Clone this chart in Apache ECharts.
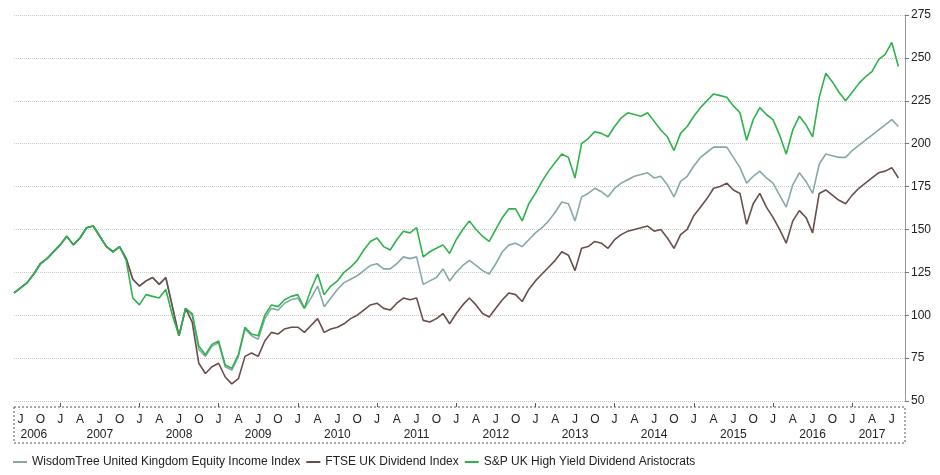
<!DOCTYPE html>
<html><head><meta charset="utf-8">
<script src="https://cdn.jsdelivr.net/npm/echarts@6/dist/echarts.min.js"></script>
<style>html,body{margin:0;padding:0;background:#fff}#c{width:940px;height:475px}</style>
</head><body><div id="c"></div>
<script>
// Monthly categories Jun 2006 .. Sep 2017
const categories = [];
for (let y = 2006; y <= 2017; y++) for (let m = 1; m <= 12; m++) {
  if ((y === 2006 && m < 6) || (y === 2017 && m > 9)) continue;
  categories.push(y + '-' + String(m).padStart(2, '0'));
}
const monthLetters = {1:'J',4:'A',7:'J',10:'O'};
const yTicks = [50,75,100,125,150,175,200,225,250,275];

const ftse = [113,116,119,124,130,133,137,141,146,141,145,151,152,146,140,137,140,133,
121,117,120,122,118,122,105,88,104,96,72,66,70,72,64,60,63,76,78,76,85,90,89,92,93,93,90,94,98,90,92,93,95,98,100,103,106,107,104,103,107,110,109,110,
97,96,98,101,95,101,106,110,106,101,99,104,109,113,112,108,115,120,124,128,132,137,135,126,139,140,143,142,139,144,147,149,150,151,152,149,150,145,139,147,150,158,163,168,174,175,177,173,171,153,165,171,163,157,150,142,155,161,157,148,171,173,170,167,165,170,174,177,180,183,184,186,180];
const wisdomTree = [113,116,119,124,130,133,137,141,146,141,145,151,152,146,140,137,140,133,
121,117,120,122,118,122,105,88,104,100,80,76,82,84,70,68,76,92,88,86,98,104,103,107,109,110,104,110,117,105,110,115,119,121,123,126,129,130,127,127,130,134,133,134,
118,120,122,127,120,125,129,132,129,126,124,130,137,141,142,140,144,148,151,155,160,166,165,155,169,171,174,172,169,174,177,179,181,182,183,180,181,176,169,178,181,187,192,195,198,198,198,192,186,177,181,184,180,177,170,163,176,183,178,171,188,194,193,192,192,196,199,202,205,208,211,214,210];
const aristocrats = [113,116,119,124,130,133,137,141,146,141,145,151,152,146,140,137,140,132,
110,106,112,111,110,115,100,88,104,101,82,77,83,85,71,69,77,93,89,88,100,106,105,109,111,112,104,115,124,112,117,120,125,128,132,138,143,145,140,138,144,149,148,151,
134,137,139,141,136,144,150,155,150,146,143,150,157,162,162,155,165,171,178,184,189,194,192,180,200,203,207,206,204,210,215,218,217,216,218,213,208,204,196,206,210,216,221,225,229,228,227,222,218,202,214,221,217,214,205,194,208,216,211,204,227,241,236,230,225,230,235,239,242,249,252,259,245];

const chart = echarts.init(document.getElementById('c'));
const font = 'Liberation Sans, Arial, sans-serif';
function mkSeries(name, data, color) {
  return {name, type:'line', data, showSymbol:false, symbol:'none', lineStyle:{width:1.6,color}, itemStyle:{color}, animation:false};
}
const yearPos = {2006:'2006-09',2017:'2017-04'};
chart.setOption({
  animation:false,
  textStyle:{fontFamily:font},
  grid:{left:14,right:35,top:15,bottom:74},
  legend:{left:8,top:451,itemWidth:14,itemHeight:2,itemGap:6,icon:'rect',
    textStyle:{fontSize:12,color:'#222',fontFamily:font},
    data:['WisdomTree United Kingdom Equity Income Index','FTSE UK Dividend Index','S&P UK High Yield Dividend Aristocrats']},
  xAxis:[{
    type:'category', data:categories, boundaryGap:false,
    axisLine:{show:false}, axisTick:{show:false}, splitLine:{show:false},
    axisLabel:{margin:13,fontSize:12,color:'#222',
      interval:(i,v)=>!!monthLetters[+v.slice(5)],
      formatter:v=>monthLetters[+v.slice(5)]||''}
  },{
    type:'category', data:categories, boundaryGap:false, position:'bottom', offset:15,
    axisLine:{show:false}, axisTick:{show:false},
    axisLabel:{margin:13,fontSize:12,color:'#222',
      interval:(i,v)=>{const y=+v.slice(0,4);return (yearPos[y]||(y+'-07'))===v;},
      formatter:v=>v.slice(0,4)}
  },{
    type:'category', data:categories, boundaryGap:false, position:'bottom', offset:6,
    axisLine:{show:false}, axisLabel:{show:false},
    axisTick:{show:true, inside:true, length:4, lineStyle:{color:'#555'},
      interval:(i,v)=>v.slice(5)==='01'}
  }],
  yAxis:{type:'value', position:'right', min:50, max:275, interval:25,
    axisLine:{show:true,lineStyle:{color:'#999'}},
    axisTick:{show:true,length:4,lineStyle:{color:'#777'}},
    axisLabel:{fontSize:12,color:'#222',margin:6},
    splitLine:{show:true,lineStyle:{type:'dotted',color:'#ccc'}}},
  graphic:[{type:'rect', shape:{x:14,y:407,width:891,height:36},
    style:{fill:'none',stroke:'#555',lineWidth:1,lineDash:[2,2]}}],
  series:[
    mkSeries('WisdomTree United Kingdom Equity Income Index', wisdomTree, '#86a9a8'),
    mkSeries('FTSE UK Dividend Index', ftse, '#6a4e4c'),
    mkSeries('S&P UK High Yield Dividend Aristocrats', aristocrats, '#2fb24c')
  ]
});
</script></body></html>
